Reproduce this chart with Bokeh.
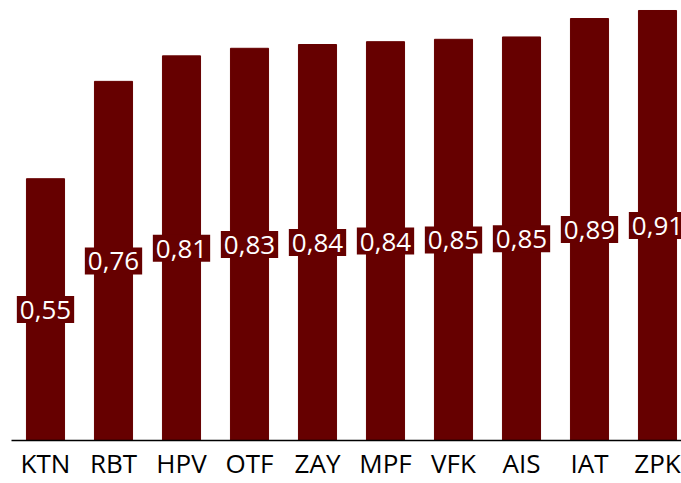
from bokeh.plotting import figure
from bokeh.models import ColumnDataSource, Range1d, FixedTicker
from bokeh.core.properties import value
from bokeh.embed import file_html
from bokeh.resources import INLINE

categories = ["KTN", "RBT", "HPV", "OTF", "ZAY", "MPF", "VFK", "AIS", "IAT", "ZPK"]
values = [0.554, 0.760, 0.814, 0.830, 0.838, 0.844, 0.849, 0.854, 0.893, 0.910]

xs = list(range(len(categories)))
labels = [f"{v:.2f}".replace(".", ",") for v in values]
mids = [v / 2 for v in values]

src = ColumnDataSource(dict(x=xs, top=values, mid=mids, label=labels))

p = figure(frame_width=670, frame_height=432, output_backend="svg", toolbar_location=None,
           x_range=Range1d(-0.5, -0.5 + 670 / 68), y_range=Range1d(0, 0.9142),
           y_axis_location=None, min_border_left=11, min_border_right=0, min_border_top=8,
           min_border_bottom=0)
p.vbar(x="x", top="top", width=0.56, source=src, color="#660000")

p.text(x="x", y="mid", text="label", source=src, text_align="center",
       text_baseline="middle", text_color="white", text_font=value("Open Sans"),
       text_font_size="26px", background_fill_color="#660000",
       padding=dict(left=3, right=3, top=5, bottom=4))

p.xgrid.visible = False
p.ygrid.visible = False
p.outline_line_color = None
ax = p.xaxis[0]
ax.ticker = FixedTicker(ticks=xs)
ax.major_label_overrides = {i: c for i, c in zip(xs, categories)}
ax.major_tick_line_color = None
ax.minor_tick_line_color = None
ax.axis_line_color = "black"
ax.axis_line_width = 1.5
ax.major_label_text_font = "Open Sans"
ax.major_label_text_font_size = "26px"
ax.major_label_text_color = "black"
ax.major_label_standoff = -2

open("out.html", "w").write(file_html(p, INLINE))
